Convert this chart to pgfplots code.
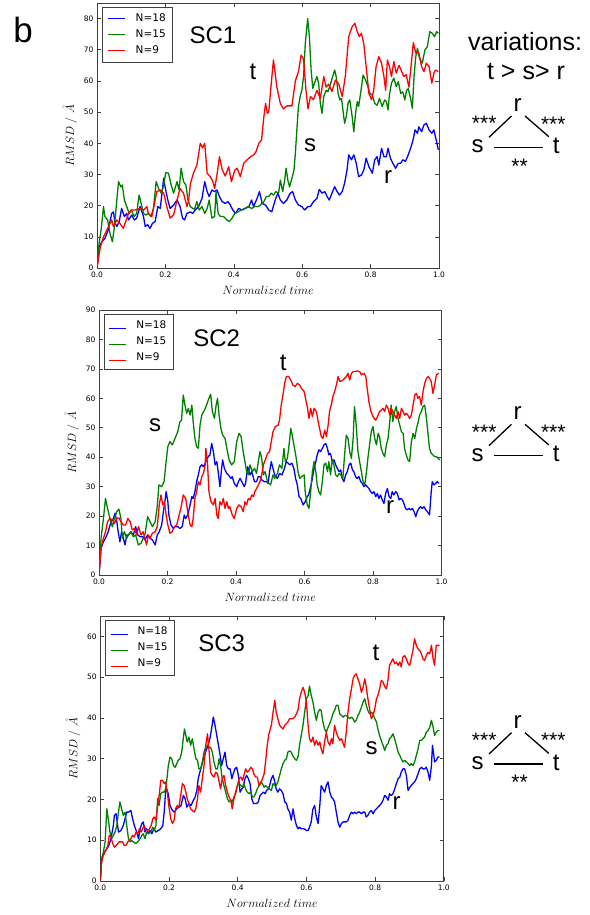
\documentclass[border=0pt]{standalone}
\usepackage{fontspec}
\setmainfont{DejaVu Sans}
\newfontfamily\arial{Liberation Sans}
\usepackage{pgfplots}
\pgfplotsset{compat=1.18}
\definecolor{mpblue}{rgb}{0,0,1}
\definecolor{mpgreen}{rgb}{0,0.5,0}
\definecolor{mpred}{rgb}{1,0,0}
\definecolor{framec}{rgb}{0.25,0.25,0.25}
\definecolor{dummyc}{rgb}{0.37,0.61,0.83}
\pgfplotsset{
  rmsd/.style={
    scale only axis, width=342pt, height=265pt, anchor=south west,
    xmin=0, xmax=1, ymin=0,
    xtick={0,0.2,0.4,0.6,0.8,1},
    tick align=inside, major tick length=4pt,
    xtick pos=both, ytick pos=both,
    axis line style={draw=framec, line width=0.8pt},
    tick style={draw=framec, line width=0.6pt},
    tick label style={font=\fontsize{7.5}{8}\selectfont, /pgf/number format/assume math mode=true},
    xticklabel style={/pgf/number format/.cd, fixed, fixed zerofill, precision=1, assume math mode=true},
    xlabel={$Normalized\ time$},
    ylabel={$RMSD\ /\ \mathring{A}$},
    label style={font=\fontsize{11.5}{13}\selectfont},
    xlabel style={at={(axis description cs:0.5,-0.083)}, anchor=center},
    ylabel style={at={(axis description cs:-0.079,0.5)}, anchor=center},
    legend cell align=left,
    legend style={at={(rel axis cs:0.0146,0.985)}, anchor=north west, draw=framec, line width=0.6pt, fill=white,
      font=\fontsize{10.5}{11}\selectfont, inner xsep=5pt, inner ysep=5pt, row sep=3pt,
      nodes={text height=7.5pt, text depth=1.5pt, inner sep=2pt},
      /tikz/every odd column/.append style={column sep=8pt}},
    every axis plot/.append style={line width=1.3pt, line join=round},
  },
  legimg/.style={draw=#1, legend image code/.code={\draw[draw=#1, line width=1.4pt] (0pt,0pt) -- (17pt,0pt);}},
  legimgB/.style={draw=#1, legend image code/.code={\node[inner sep=0pt, anchor=west] at (0pt,0pt) {\color{dummyc}\color{#1}\rule[-0.7pt]{17pt}{1.4pt}};}},
}
\begin{document}
\begin{tikzpicture}
\useasboundingbox (0,0) rectangle (589pt,915pt);
% ---------------- SC1 ----------------
\begin{axis}[rmsd, at={(97pt,647pt)}, ymax=85, ytick={0,10,20,30,40,50,60,70,80}]
\addplot[legimg=mpblue] coordinates {(0,0) (0.006,6.8) (0.014,8.4) (0.023,9.5) (0.033,12.2) (0.038,14.9) (0.043,17.5) (0.048,18) (0.053,14.3) (0.058,13.3) (0.065,14.9) (0.072,19.1) (0.080,16.5) (0.087,17.5) (0.092,15.4) (0.102,17) (0.109,15.4) (0.116,16) (0.126,19.7) (0.136,16.5) (0.141,13.3) (0.148,13.9) (0.155,12.7) (0.162,14.3) (0.170,14.9) (0.178,19.7) (0.185,19.1) (0.195,28.8) (0.199,26) (0.207,21.8) (0.214,19.1) (0.224,20.2) (0.234,21.8) (0.243,19.7) (0.250,16) (0.256,15.4) (0.263,17.5) (0.273,18) (0.280,17.5) (0.287,18.6) (0.297,19.7) (0.307,22.3) (0.315,27.7) (0.322,24.5) (0.328,22.9) (0.336,25) (0.344,24.5) (0.351,25) (0.358,22.9) (0.366,21.3) (0.375,20.7) (0.383,21.3) (0.390,20.2) (0.397,18.6) (0.405,17.5) (0.414,19.1) (0.424,18.6) (0.434,19.1) (0.444,19.7) (0.452,21.8) (0.458,19.7) (0.468,22.3) (0.475,24.5) (0.483,20.7) (0.493,20.2)
(0.502,18.6) (0.511,18) (0.521,21.8) (0.529,24) (0.536,21.8) (0.545,20.7) (0.555,21.8) (0.565,24) (0.572,24.5) (0.580,21.8) (0.589,20.2) (0.599,19.7) (0.607,18.6) (0.617,19.7) (0.624,19.7) (0.633,21.3) (0.643,22.3) (0.650,25.2) (0.658,24) (0.666,24.5) (0.673,22.9) (0.679,21.8) (0.687,24) (0.695,26.1) (0.702,24.5) (0.709,23.4) (0.717,24.5) (0.724,27.2) (0.731,31.4) (0.736,36.3) (0.744,34.7) (0.751,36.3) (0.758,33.6) (0.765,29.3) (0.773,29.8) (0.780,31.4) (0.787,35.2) (0.795,32.5) (0.805,30.4) (0.812,34.7) (0.819,35.7) (0.824,33) (0.832,38.4) (0.839,35.7) (0.846,35.7) (0.851,38.4) (0.858,35.2) (0.865,33.6) (0.873,32) (0.881,33.6) (0.888,33.6) (0.894,34.7) (0.902,34.2) (0.910,36.3) (0.917,38.4) (0.924,41) (0.930,44.3) (0.937,43.2) (0.941,45.3) (0.949,43.7) (0.956,45.9) (0.963,46.4) (0.971,44.3) (0.979,43.2) (0.985,44.3) (0.992,41) (0.998,37.9)};
\addlegendentry{N=18}
\addplot[legimg=mpgreen] coordinates {(0,0) (0.006,7.9) (0.012,12.2) (0.019,19.7) (0.023,16.5) (0.031,15.4) (0.038,11.1) (0.045,8.4) (0.051,13.3) (0.058,21.8) (0.063,27.7) (0.070,26) (0.074,26.6) (0.080,21.8) (0.087,19.7) (0.094,17.5) (0.100,18.6) (0.109,16.5) (0.116,17.5) (0.123,23.4) (0.129,20.7) (0.136,17.5) (0.143,17) (0.150,17.5) (0.158,16.5) (0.165,19.1) (0.173,27.7) (0.180,25.5) (0.188,24) (0.195,26.6) (0.201,30.6) (0.209,30.4) (0.217,26.6) (0.224,24) (0.234,27.7) (0.240,25) (0.246,32) (0.253,27.7) (0.260,26.6) (0.266,21.8) (0.273,19.7) (0.280,19.1) (0.285,18.8) (0.292,21.3) (0.299,18.6) (0.307,19.7) (0.315,17.5) (0.322,19.1) (0.328,21.8) (0.336,16) (0.344,16.5) (0.348,24.5) (0.354,17.5) (0.361,16.5) (0.370,16.5) (0.380,15.4) (0.387,14.9) (0.395,16) (0.403,17.5) (0.412,18) (0.422,18.6) (0.432,19.1) (0.442,19.7) (0.452,19.1) (0.461,19.7) (0.471,19.7) (0.478,20.2) (0.488,21.3) (0.495,22.9)
(0.502,22.9) (0.509,24) (0.516,23.4) (0.523,24.5) (0.531,24) (0.536,28.2) (0.543,24.5) (0.548,27.7) (0.553,32) (0.558,28.2) (0.563,26) (0.570,28.8) (0.576,31.4) (0.580,36.8) (0.585,45.3) (0.589,51.8) (0.594,55) (0.599,57) (0.604,61.4) (0.609,72) (0.616,80) (0.621,74.2) (0.626,63.5) (0.631,57.6) (0.636,59.3) (0.643,61.4) (0.648,59.3) (0.653,52.8) (0.658,49.6) (0.663,55) (0.670,57) (0.675,56.5) (0.682,58.7) (0.689,61.4) (0.695,63.5) (0.700,61) (0.705,56) (0.710,53.9) (0.715,54.4) (0.719,50.7) (0.724,46.4) (0.729,48.6) (0.734,52.8) (0.739,53.9) (0.746,48.6) (0.751,43.7) (0.756,49.6) (0.761,53.4) (0.765,51.8) (0.772,57) (0.778,61.9) (0.785,60.3) (0.792,58.2) (0.798,56) (0.805,55.5) (0.812,52.8) (0.819,52.2) (0.826,54.4) (0.834,51.8) (0.841,53.9) (0.846,53.4) (0.851,50.7) (0.855,55.5) (0.861,59.3) (0.868,60.9) (0.875,58.2) (0.881,59.8) (0.888,56) (0.894,56.5) (0.900,53.9) (0.905,57) (0.910,57.5) (0.917,54.4) (0.922,51.2) (0.927,61.4) (0.932,67.8) (0.937,70.5) (0.943,67.3) (0.951,65.7) (0.959,70) (0.966,71) (0.973,75.8) (0.980,75.3) (0.987,74.2) (0.993,75.8) (0.998,75.3)};
\addlegendentry{N=15}
\addplot[legimg=mpred] coordinates {(0,0) (0.009,6.3) (0.019,10) (0.028,12) (0.043,15.4) (0.048,13.3) (0.058,15.4) (0.067,14.3) (0.077,12.7) (0.092,17.5) (0.102,18.6) (0.111,18.6) (0.126,19.1) (0.136,18.6) (0.146,19.7) (0.150,17.5) (0.160,16.5) (0.165,19) (0.175,24.5) (0.185,25) (0.195,24) (0.204,19.7) (0.214,16) (0.224,17) (0.234,21.8) (0.243,25.5) (0.253,24) (0.263,19.7) (0.268,21.8) (0.273,27) (0.282,30.4) (0.292,33) (0.302,40) (0.309,38.5) (0.315,40) (0.322,30.4) (0.331,29.3) (0.338,28) (0.344,25.5) (0.351,30) (0.358,35.7) (0.366,31.6) (0.375,29.5) (0.385,32.5) (0.393,27.7) (0.403,31.4) (0.410,32) (0.419,29.3) (0.429,33.6) (0.439,34.7) (0.449,35.7) (0.458,36.3) (0.465,37.3) (0.473,40) (0.481,41) (0.488,48.6) (0.493,52.8) (0.498,49.6)
(0.502,50) (0.511,61) (0.516,66.7) (0.526,58) (0.536,52.8) (0.545,51) (0.555,52) (0.570,52) (0.580,60) (0.589,63) (0.597,68.3) (0.604,67) (0.611,57) (0.617,51) (0.624,55) (0.633,54) (0.643,57) (0.653,54.4) (0.663,61.4) (0.670,58) (0.677,59) (0.687,56.6) (0.697,60.3) (0.707,59) (0.717,55) (0.726,61.4) (0.736,74.2) (0.746,77.4) (0.754,78.5) (0.761,75.8) (0.767,74.2) (0.773,75.3) (0.780,72) (0.787,64.6) (0.795,56) (0.803,54) (0.809,57) (0.816,64.6) (0.824,67.8) (0.832,65.7) (0.839,61.4) (0.844,57) (0.849,66.7) (0.855,64.6) (0.861,61.4) (0.868,66.2) (0.875,62.5) (0.883,65) (0.891,63) (0.897,61.4) (0.904,62) (0.912,58) (0.920,66.7) (0.925,72.3) (0.932,69) (0.941,69) (0.949,64.6) (0.956,63) (0.963,65.7) (0.971,64.6) (0.979,59.3) (0.985,62.5) (0.990,63.5) (0.998,63)};
\addlegendentry{N=9}
\end{axis}
% ---------------- SC2 ----------------
\begin{axis}[rmsd, at={(99pt,340pt)}, width=342.5pt, ymax=90, ytick={0,10,20,30,40,50,60,70,80,90}]
\addplot[legimgB=mpblue] coordinates {(0,0) (0.006,9.1) (0.013,11.3) (0.019,12.5) (0.027,14.7) (0.035,18.1) (0.042,19.2) (0.047,21) (0.052,18.1) (0.056,14.7) (0.061,11.3) (0.066,14.7) (0.071,12.5) (0.076,10.2) (0.081,13.6) (0.086,13.6) (0.093,14.7) (0.100,13.6) (0.107,16.4) (0.113,13.6) (0.120,13) (0.127,13) (0.134,11.9) (0.142,13.6) (0.149,12.5) (0.156,11.9) (0.164,10.2) (0.170,13.6) (0.176,14.7) (0.183,17) (0.188,21.5) (0.193,25.5) (0.196,28.3) (0.201,24.9) (0.204,20.4) (0.210,17) (0.217,15.8) (0.222,16.4) (0.230,16.4) (0.236,15.8) (0.243,16.4) (0.249,20.4) (0.253,19.2) (0.259,20.4) (0.266,23.8) (0.271,26.6) (0.275,26) (0.280,28.3) (0.285,31.7) (0.290,34) (0.295,36.8) (0.300,37.4) (0.305,36.8) (0.310,37.9) (0.314,39.1) (0.319,40.2) (0.324,40.8) (0.329,44.7) (0.334,41.9) (0.339,37.4) (0.344,38.5) (0.348,35.1) (0.353,30) (0.358,36.2) (0.361,39.1) (0.366,36.2) (0.373,34.5) (0.378,34) (0.385,32.8) (0.389,33.4) (0.395,31.1) (0.402,30) (0.407,31.7) (0.412,32.8) (0.417,31.7) (0.424,30) (0.428,31.1) (0.434,36.8) (0.441,34) (0.446,35.1) (0.454,31.7) (0.460,31.7) (0.465,33.4) (0.470,33.4) (0.475,32.3) (0.483,31.7) (0.490,31.7) (0.494,31.1)
(0.498,35.1) (0.503,38.5) (0.508,36.2) (0.513,34) (0.521,32.8) (0.527,34.5) (0.534,34) (0.540,35.7) (0.547,38.5) (0.552,38) (0.557,37.4) (0.563,38) (0.569,36.2) (0.574,32.8) (0.579,30.6) (0.584,26.6) (0.589,26) (0.596,23.8) (0.602,24.9) (0.608,26.6) (0.612,27.2) (0.618,30) (0.623,32.8) (0.628,36.2) (0.633,38.5) (0.637,40.8) (0.642,42.5) (0.647,41.9) (0.652,43) (0.657,44.2) (0.662,44.7) (0.667,43) (0.671,40.8) (0.676,41.3) (0.681,38.5) (0.686,39.1) (0.691,37.4) (0.696,36.2) (0.701,35.1) (0.706,35.7) (0.710,32.8) (0.715,31.7) (0.720,34) (0.725,35.1) (0.730,37.4) (0.735,38) (0.740,35.7) (0.744,35.1) (0.749,33.4) (0.754,32.8) (0.759,33.4) (0.764,31.7) (0.769,31.1) (0.774,30) (0.779,30.6) (0.783,30) (0.788,29.4) (0.793,28.3) (0.798,27.7) (0.803,28.3) (0.808,26.6) (0.813,27.7) (0.817,26) (0.822,27.2) (0.827,25.5) (0.832,24.3) (0.837,27.7) (0.842,29.4) (0.847,26.6) (0.852,26) (0.856,28.3) (0.861,27.2) (0.866,28.3) (0.871,27.7) (0.876,25.5) (0.881,26) (0.886,25.5) (0.890,24.3) (0.895,22.6) (0.900,22.1) (0.905,22.6) (0.910,22.1) (0.915,22.6) (0.920,21.5) (0.925,19.8) (0.929,21.5) (0.934,22.6) (0.939,23.2) (0.944,22.6) (0.949,23.2) (0.954,22.1) (0.959,21.5) (0.965,20.4) (0.970,28.3) (0.973,31.7) (0.978,30.6) (0.983,31.1) (0.988,31.7) (0.992,31.1)};
\addlegendentry{N=18}
\addplot[legimgB=mpgreen] coordinates {(0,0) (0.006,12.5) (0.013,19.2) (0.019,26) (0.025,22.6) (0.032,19.2) (0.039,16.4) (0.045,19.2) (0.052,21.5) (0.058,22.4) (0.064,19.2) (0.068,12.5) (0.074,14.7) (0.081,12.5) (0.086,13.6) (0.093,14.7) (0.100,13) (0.107,13.6) (0.115,10.2) (0.123,10.8) (0.129,12.5) (0.134,13.6) (0.142,19.8) (0.149,18.1) (0.156,16.4) (0.164,18.1) (0.170,23.2) (0.175,30.6) (0.183,30) (0.190,31.7) (0.196,38.5) (0.201,43.6) (0.207,45.3) (0.214,44.2) (0.222,46.4) (0.230,48.7) (0.236,52) (0.241,52.6) (0.246,61.1) (0.251,57.7) (0.256,54.9) (0.261,56.6) (0.266,54.3) (0.271,57.7) (0.275,52) (0.280,46.4) (0.285,43.6) (0.290,43) (0.295,50.9) (0.300,54.3) (0.308,56) (0.314,57.7) (0.319,59.4) (0.326,61.4) (0.331,55.5) (0.337,53.2) (0.342,57.7) (0.346,60) (0.351,53.8) (0.356,49.8) (0.361,47.5) (0.368,46.4) (0.375,41.9) (0.380,39.1) (0.387,37.4) (0.395,38.5) (0.402,45.3) (0.409,48.1) (0.415,47) (0.421,41.9) (0.426,38.5) (0.431,35.1) (0.436,34) (0.441,37.4) (0.448,35.1) (0.454,36.2) (0.460,34.5) (0.465,38.5) (0.470,41.9) (0.475,39.6) (0.480,34) (0.485,35.1) (0.492,31.7)
(0.501,30.6) (0.508,34) (0.513,32.8) (0.521,34.5) (0.527,37.4) (0.534,36.2) (0.540,43) (0.544,38.5) (0.550,39.6) (0.555,44.2) (0.560,49.8) (0.564,47.5) (0.569,44.2) (0.576,39.6) (0.581,35.1) (0.586,32.8) (0.591,33.4) (0.599,34) (0.602,28.3) (0.608,23.8) (0.613,22.6) (0.618,28.3) (0.623,35.1) (0.628,38.5) (0.633,35.1) (0.637,30.6) (0.642,28.3) (0.647,27.2) (0.652,31.7) (0.657,37.4) (0.662,38) (0.667,35.1) (0.671,38.5) (0.676,34) (0.681,39.1) (0.686,37.4) (0.691,34) (0.696,33.4) (0.701,34.5) (0.706,34) (0.712,32.8) (0.717,40.8) (0.722,47.5) (0.727,46.4) (0.732,41.9) (0.737,39.6) (0.742,46.4) (0.746,57.2) (0.751,51) (0.756,41.9) (0.761,38.5) (0.766,35.1) (0.771,31.7) (0.776,30.6) (0.781,35.1) (0.785,39.6) (0.790,44.2) (0.795,48.7) (0.800,50.4) (0.805,46.4) (0.810,44.2) (0.815,48.1) (0.819,47) (0.824,43) (0.829,41.3) (0.834,40.2) (0.839,44.2) (0.844,46.4) (0.849,52.1) (0.853,57.7) (0.858,52.1) (0.863,55.5) (0.868,57.2) (0.873,53.2) (0.878,50.9) (0.883,48.7) (0.888,48.1) (0.892,43) (0.897,40.8) (0.902,39.1) (0.907,38.5) (0.912,45.3) (0.917,48.1) (0.922,46.4) (0.927,49.8) (0.931,51.5) (0.936,54.3) (0.941,55.5) (0.946,57.2) (0.951,57.7) (0.956,53.2) (0.961,47.5) (0.965,43) (0.970,41.3) (0.975,40.8) (0.980,40.2) (0.985,40.2) (0.990,39.6) (0.995,39.1)};
\addlegendentry{N=15}
\addplot[legimgB=mpred] coordinates {(0,0) (0.006,9.1) (0.013,12.5) (0.019,14.7) (0.025,18.1) (0.032,19.2) (0.039,18.7) (0.045,17.5) (0.052,19.2) (0.058,19.4) (0.064,18.1) (0.071,17) (0.078,17) (0.084,19.2) (0.091,18.1) (0.097,15.3) (0.103,15.8) (0.110,13.6) (0.115,16.4) (0.123,13.6) (0.129,14.7) (0.134,12.5) (0.139,10.2) (0.144,13.6) (0.149,12.5) (0.156,14.2) (0.164,14.7) (0.170,16.4) (0.176,23.8) (0.181,27.2) (0.186,23.8) (0.191,24.9) (0.196,20.4) (0.201,17) (0.207,14.2) (0.214,14.7) (0.220,16.4) (0.227,17) (0.234,20.4) (0.239,22.6) (0.246,27.2) (0.253,26) (0.259,21.5) (0.266,17) (0.271,16.4) (0.275,19.2) (0.280,26) (0.285,28.3) (0.290,31.7) (0.295,30.6) (0.300,33.4) (0.305,34.5) (0.310,37.4) (0.312,43) (0.317,37.4) (0.321,28.3) (0.327,24.9) (0.334,23.8) (0.339,26) (0.344,20.4) (0.348,19.2) (0.353,24.9) (0.358,23.8) (0.363,26) (0.368,22.6) (0.373,24.9) (0.378,22.6) (0.382,23.2) (0.389,20.4) (0.395,19.2) (0.402,22.6) (0.409,23.8) (0.415,23.2) (0.421,21.5) (0.426,24.9) (0.431,23.8) (0.436,26) (0.441,25.5) (0.446,27.2) (0.451,26.6) (0.455,28.3) (0.463,30) (0.470,31.7) (0.475,34) (0.480,37.4) (0.487,39.6) (0.492,41.3)
(0.498,41.9) (0.503,45.3) (0.508,48.7) (0.515,50.4) (0.523,50.9) (0.527,52.6) (0.532,57.7) (0.537,61.1) (0.542,65.1) (0.547,67.4) (0.554,67.4) (0.560,66.2) (0.566,64.5) (0.573,64) (0.579,65.1) (0.586,64.5) (0.591,63.4) (0.599,62.3) (0.603,60) (0.608,57.2) (0.613,53.2) (0.618,56.6) (0.623,53.8) (0.628,56.6) (0.635,55.5) (0.639,52.6) (0.644,49.8) (0.649,47) (0.654,46.4) (0.659,49.2) (0.664,47) (0.669,50.9) (0.673,55.5) (0.678,57.7) (0.683,60.6) (0.688,62.3) (0.693,64.5) (0.698,67.4) (0.703,65.7) (0.708,65.9) (0.712,66.2) (0.717,66.8) (0.722,67.4) (0.727,68.5) (0.732,66.2) (0.737,68.5) (0.742,69.1) (0.748,69.1) (0.754,69.3) (0.761,69.1) (0.766,68) (0.774,68.5) (0.779,67.4) (0.783,63.4) (0.788,58.9) (0.793,56) (0.798,54.3) (0.803,53.2) (0.808,52.6) (0.813,53.8) (0.819,55.5) (0.824,56) (0.829,56.6) (0.834,55.5) (0.839,57.7) (0.844,56.6) (0.849,54.3) (0.853,56.6) (0.858,55.5) (0.863,54.3) (0.868,53.2) (0.873,55.5) (0.878,53.2) (0.883,56.6) (0.888,55.5) (0.892,54.3) (0.897,54.9) (0.902,54.3) (0.907,53.2) (0.912,54.3) (0.917,57.7) (0.922,61.1) (0.927,61.7) (0.931,60) (0.936,60.6) (0.941,57.7) (0.946,62.3) (0.951,65.1) (0.956,66.8) (0.961,67.4) (0.965,66.8) (0.970,65.7) (0.975,61.7) (0.980,64.5) (0.985,68) (0.992,68.5)};
\addlegendentry{N=9}
\end{axis}
% ---------------- SC3 ----------------
\begin{axis}[rmsd, at={(100.3pt,34pt)}, width=343.5pt, ymax=65, ytick={0,10,20,30,40,50,60}]
\addplot[legimgB=mpblue] coordinates {(0,0) (0.004,5.5) (0.012,7.1) (0.019,7.9) (0.025,8.7) (0.031,10.4) (0.038,13.6) (0.041,16.1) (0.046,16.5) (0.053,12) (0.060,12.4) (0.067,13.6) (0.072,15.3) (0.077,16.9) (0.082,16.9) (0.089,17.3) (0.094,15.3) (0.099,13.6) (0.106,12) (0.111,10.4) (0.116,12.8) (0.121,14.1) (0.125,14.5) (0.130,12) (0.135,12.8) (0.140,11.6) (0.145,12.4) (0.150,11.6) (0.156,12.8) (0.162,12) (0.169,12.4) (0.176,12.8) (0.182,13.6) (0.186,16.9) (0.190,21.8) (0.193,22.6) (0.198,21.4) (0.203,18.5) (0.210,17.3) (0.216,16.9) (0.222,17.7) (0.229,18.1) (0.235,18.5) (0.242,21) (0.247,20.2) (0.252,18.1) (0.258,19) (0.264,18.5) (0.271,19.8) (0.276,20.6) (0.281,22.2) (0.285,25.1) (0.290,26.7) (0.295,28.3) (0.300,30) (0.305,31.2) (0.310,32.4) (0.315,33.7) (0.319,34.9) (0.324,37.3) (0.329,40.2) (0.334,38.2) (0.339,35.7) (0.344,33.3) (0.349,30.8) (0.353,28.3) (0.358,30) (0.363,31.6) (0.368,28.3) (0.373,27.5) (0.378,27.5) (0.383,25.1) (0.387,26.3) (0.392,27.5) (0.397,27.9) (0.402,25.9) (0.407,21.8) (0.412,22.6) (0.416,23) (0.421,25.1) (0.426,25.9) (0.431,25.1) (0.436,23.9) (0.441,20.2) (0.446,19) (0.450,19) (0.455,19) (0.460,19.4) (0.465,21) (0.470,21.4) (0.475,21.8) (0.480,21.4) (0.484,22.2) (0.489,22.6)
(0.493,23.4) (0.498,25.1) (0.503,25.9) (0.508,24.3) (0.512,22.6) (0.517,21.8) (0.522,22.6) (0.527,22.2) (0.532,21.4) (0.537,19.4) (0.542,19) (0.546,17.7) (0.551,16.9) (0.556,14.9) (0.561,17.7) (0.566,15.3) (0.571,13.6) (0.576,12.8) (0.580,13.2) (0.585,12.8) (0.593,12.8) (0.600,12.4) (0.605,12.4) (0.609,13.2) (0.614,14.5) (0.619,17.7) (0.624,18.5) (0.629,15.7) (0.634,14.1) (0.639,18.5) (0.643,23.4) (0.648,22.6) (0.653,21.8) (0.658,23.4) (0.663,24.3) (0.668,21.8) (0.673,20.6) (0.677,20.2) (0.682,19.4) (0.687,16.9) (0.692,14.5) (0.697,13.2) (0.702,14.1) (0.707,14.5) (0.711,14.5) (0.716,14.5) (0.721,14.9) (0.726,16.1) (0.731,16.9) (0.736,16.5) (0.740,16.9) (0.745,16.5) (0.750,16.9) (0.755,16.9) (0.760,16.5) (0.765,16.9) (0.770,16.9) (0.774,15.7) (0.779,16.1) (0.784,16.9) (0.789,17.3) (0.794,16.5) (0.799,17.3) (0.804,17.7) (0.808,18.1) (0.813,18.5) (0.818,19) (0.823,19.8) (0.828,21) (0.833,20.6) (0.838,19.8) (0.842,21.4) (0.847,21) (0.852,21.4) (0.857,22.6) (0.862,23.9) (0.867,25.1) (0.872,25.5) (0.876,26.7) (0.881,27.5) (0.886,27.5) (0.891,25.9) (0.896,22.2) (0.901,23) (0.905,23.4) (0.910,23.9) (0.915,24.3) (0.920,25.1) (0.925,26.3) (0.930,27.5) (0.935,27.9) (0.939,27.5) (0.944,27.5) (0.949,27.9) (0.954,26.7) (0.959,24.7) (0.964,28.3) (0.967,33.3) (0.971,30.8) (0.973,29.2) (0.978,29.6) (0.983,30.4) (0.988,30.4)};
\addlegendentry{N=18}
\addplot[legimgB=mpgreen] coordinates {(0,0) (0.004,5.5) (0.009,7.1) (0.014,9.6) (0.019,17.7) (0.023,15.3) (0.028,12) (0.033,10.4) (0.038,11.2) (0.043,12) (0.048,13.6) (0.053,16.9) (0.057,19.4) (0.062,17.7) (0.067,16.1) (0.072,16.9) (0.077,13.6) (0.082,10.4) (0.087,9.6) (0.091,10) (0.096,9.6) (0.103,9.2) (0.109,9.6) (0.116,10.4) (0.121,11.2) (0.125,11.6) (0.130,10.4) (0.135,12) (0.140,11.6) (0.147,12) (0.153,13.2) (0.157,12.4) (0.162,13.6) (0.167,20.2) (0.171,18.5) (0.176,21.4) (0.181,21.8) (0.186,21.8) (0.190,22.6) (0.193,24.3) (0.198,28.3) (0.203,30.4) (0.208,30) (0.213,28.3) (0.218,27.9) (0.222,28.7) (0.227,29.6) (0.232,30) (0.237,31.6) (0.242,35.3) (0.245,37.3) (0.249,35.7) (0.253,34.1) (0.258,35.3) (0.263,33.3) (0.268,34.9) (0.273,32.4) (0.278,30) (0.283,29.6) (0.287,27.5) (0.292,27.5) (0.297,29.2) (0.302,31.6) (0.307,32.8) (0.312,33.3) (0.317,32.8) (0.321,32.8) (0.326,31.6) (0.331,29.2) (0.336,27.5) (0.341,27.5) (0.346,30) (0.350,28.3) (0.355,25.1) (0.360,23.4) (0.365,21.8) (0.370,20.2) (0.375,19.4) (0.380,19.8) (0.384,19.4) (0.389,20.6) (0.394,21.4) (0.399,23.4) (0.404,23.9) (0.409,23.4) (0.414,23) (0.418,23.9) (0.423,22.6) (0.428,21.8) (0.433,21.4) (0.438,21.8) (0.443,20.6) (0.447,20.6) (0.452,21.4) (0.457,22.6) (0.462,23.4) (0.467,24.3) (0.472,23.9) (0.477,23) (0.481,23.4) (0.486,23)
(0.493,22.6) (0.498,22.2) (0.503,23.9) (0.508,23.4) (0.512,23.4) (0.517,24.3) (0.522,25.9) (0.527,27.5) (0.532,28.8) (0.537,29.6) (0.542,30) (0.546,31.6) (0.551,31.9) (0.556,31.6) (0.561,30.6) (0.566,30) (0.571,29.6) (0.576,30.6) (0.580,33.3) (0.585,35.7) (0.590,38.2) (0.595,41.4) (0.600,44.7) (0.605,45.5) (0.609,47.8) (0.614,45.5) (0.619,43.9) (0.624,41.4) (0.629,39.4) (0.634,41.4) (0.639,42.1) (0.643,41.8) (0.648,39) (0.653,37.3) (0.658,36.5) (0.663,37.7) (0.668,38.6) (0.673,39.8) (0.677,41) (0.682,41.8) (0.687,43.1) (0.692,43.1) (0.697,41) (0.702,40.6) (0.707,40.2) (0.711,40.6) (0.716,40.6) (0.721,40.2) (0.726,39.8) (0.731,40.2) (0.736,39.8) (0.740,39) (0.745,39.4) (0.750,40.6) (0.755,41.4) (0.760,42.6) (0.765,43.9) (0.770,44.7) (0.774,43.2) (0.779,41.8) (0.784,41) (0.789,41.4) (0.794,41) (0.799,39.8) (0.804,39) (0.808,37.3) (0.813,35.7) (0.818,34.5) (0.823,33.3) (0.828,32) (0.833,33.3) (0.838,33.7) (0.842,34.9) (0.847,35.3) (0.852,36.1) (0.857,34.9) (0.862,33.3) (0.867,31.6) (0.872,30.8) (0.876,30) (0.881,29.2) (0.886,29.6) (0.891,29.2) (0.896,28.8) (0.901,28.3) (0.905,28.8) (0.910,28.3) (0.915,29.2) (0.920,30.8) (0.925,32.4) (0.930,34.5) (0.935,34.5) (0.939,34.9) (0.944,35.3) (0.949,36.5) (0.954,36.9) (0.959,37.7) (0.964,39.4) (0.969,37.7) (0.973,35.7) (0.978,36.5) (0.983,36.9) (0.988,36.9)};
\addlegendentry{N=15}
\addplot[legimgB=mpred] coordinates {(0,0) (0.004,4.7) (0.009,6.3) (0.016,7.5) (0.022,8.7) (0.026,11.2) (0.031,10.8) (0.036,9.2) (0.041,8.3) (0.046,8.7) (0.051,9.2) (0.055,9.6) (0.060,9.6) (0.065,9.6) (0.070,8.7) (0.075,8.8) (0.080,9.6) (0.085,10) (0.089,10.4) (0.094,11.2) (0.099,10.8) (0.104,12) (0.109,11.6) (0.114,12.8) (0.119,12) (0.123,12.8) (0.128,13.6) (0.133,12.4) (0.138,12.4) (0.143,12.8) (0.148,13.6) (0.153,15.3) (0.157,15.7) (0.162,14.9) (0.167,18.5) (0.172,21.4) (0.176,24.7) (0.181,24.7) (0.186,23.9) (0.190,24.3) (0.195,21.8) (0.200,18.1) (0.205,15.3) (0.210,14.1) (0.215,14.9) (0.219,17.7) (0.224,18.5) (0.229,18.1) (0.234,21) (0.239,23.9) (0.244,23.4) (0.249,21.8) (0.253,20.2) (0.258,19) (0.263,17.7) (0.268,17.3) (0.273,16.9) (0.278,17.7) (0.283,20.2) (0.287,23.4) (0.292,21.8) (0.297,25.1) (0.302,28.3) (0.307,33.3) (0.312,36.1) (0.317,31.6) (0.321,26.7) (0.326,25.9) (0.331,25.5) (0.336,26.7) (0.341,26.3) (0.346,24.3) (0.350,22.6) (0.355,25.1) (0.360,25.9) (0.365,23.4) (0.370,21.8) (0.375,20.6) (0.380,19.8) (0.384,17.7) (0.389,20.2) (0.394,21.8) (0.399,23.4) (0.404,25.1) (0.409,25.5) (0.414,24.7) (0.418,25.9) (0.423,27.5) (0.428,26.7) (0.433,27.1) (0.438,27.9) (0.443,27.5) (0.447,26.3) (0.452,25.5) (0.457,25.5) (0.462,23.4) (0.467,23.9) (0.472,25.1) (0.477,26.3) (0.481,29.2) (0.486,33.3) (0.491,36.1)
(0.498,38.2) (0.503,41.4) (0.508,44.3) (0.512,41.4) (0.517,39.8) (0.522,38.2) (0.527,37.7) (0.532,37.3) (0.537,38.2) (0.542,38.6) (0.546,39) (0.551,39.8) (0.556,39.8) (0.561,39.8) (0.566,40.2) (0.571,41) (0.576,42.1) (0.580,44.7) (0.585,46.3) (0.590,47.5) (0.595,46.3) (0.600,43.9) (0.605,38.2) (0.609,34.9) (0.614,34.1) (0.619,35.3) (0.624,33.3) (0.629,34.5) (0.634,33.3) (0.639,34.1) (0.643,32.4) (0.648,31.2) (0.653,34.1) (0.658,36.5) (0.663,34.1) (0.668,33.3) (0.673,34.9) (0.677,33.7) (0.682,38.2) (0.687,36.5) (0.692,35.3) (0.697,34.5) (0.702,34.9) (0.707,33.7) (0.711,32.8) (0.716,36.5) (0.721,41.4) (0.726,44.7) (0.731,47.1) (0.736,49.6) (0.740,50.4) (0.745,50.8) (0.750,49.6) (0.755,48.4) (0.760,46.3) (0.765,47.5) (0.770,49.6) (0.774,47.8) (0.779,44.7) (0.784,42.2) (0.789,39.8) (0.794,40.6) (0.799,42.2) (0.804,44.7) (0.808,45.5) (0.813,47.1) (0.818,49.2) (0.823,48.8) (0.828,47.7) (0.833,47.1) (0.838,49.6) (0.842,52.9) (0.847,53.7) (0.852,54.5) (0.857,53.3) (0.862,53.7) (0.867,52.9) (0.872,53.7) (0.876,52.5) (0.881,54.9) (0.886,55.3) (0.891,54.5) (0.896,53.3) (0.901,52.9) (0.905,54.5) (0.910,56.5) (0.915,59.4) (0.920,57.8) (0.925,56.9) (0.930,56.5) (0.935,55.7) (0.939,54.5) (0.944,54.1) (0.949,55.3) (0.954,56.1) (0.959,55.7) (0.964,57.8) (0.969,54.5) (0.973,52.9) (0.978,57.8) (0.983,57.8) (0.988,57.8)};
\addlegendentry{N=9}
\end{axis}
% ---------------- annotations ----------------
\begin{scope}[every node/.style={inner sep=0pt, font=\arial\fontsize{24}{28}\selectfont}]
\node[font=\arial\fontsize{35}{40}\selectfont] at (23pt,885pt) {b};
% SC1
\node at (213pt,880pt) {SC1};
\node at (253pt,843pt) {t};
\node at (310pt,770pt) {s};
\node at (388pt,738pt) {r};
\node[font=\arial\fontsize{25}{28}\selectfont] at (525pt,873pt) {variations:};
\node[font=\arial\fontsize{25}{28}\selectfont] at (526pt,843pt) {t > s> r};
% SC2
\node at (216.7pt,576.7pt) {SC2};
\node at (283.3pt,551.7pt) {t};
\node at (155pt,490pt) {s};
\node at (390pt,407.7pt) {r};
% SC3
\node at (221.7pt,271.7pt) {SC3};
\node at (376pt,262.3pt) {t};
\node at (371.7pt,166.7pt) {s};
\node at (396.7pt,111.7pt) {r};
% triangles
\foreach \dy/\bot in {0/1, -308.3/0, -616.7/1} {
  \begin{scope}[yshift=\dy pt]
    \node at (517.5pt,810pt) {r};
    \node at (477.7pt,768.5pt) {s};
    \node at (556.2pt,769pt) {t};
    \draw[line width=1.3pt] (489pt,777.7pt) -- (511.5pt,799pt);
    \draw[line width=1.3pt] (525pt,799pt) -- (548.8pt,778.3pt);
    \draw[line width=1.3pt] (494.2pt,767.7pt) -- (542.5pt,767.7pt);
    \node[font=\arial\fontsize{21}{26}\selectfont] at (484.2pt,791.5pt) {***};
    \node[font=\arial\fontsize{21}{26}\selectfont] at (553.3pt,791pt) {***};
    \ifnum\bot=1 \node[font=\arial\fontsize{21}{26}\selectfont] at (519.5pt,749pt) {**}; \fi
  \end{scope}
}
\end{scope}
\end{tikzpicture}
\end{document}
